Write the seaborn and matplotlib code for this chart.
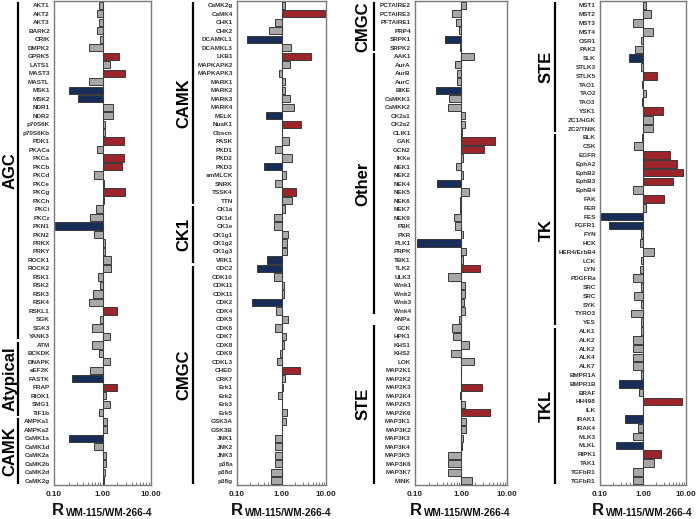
import numpy as np
import pandas as pd
import matplotlib
matplotlib.use("Agg")
import matplotlib.pyplot as plt
import seaborn as sns
from matplotlib.transforms import offset_copy, blended_transform_factory

sns.set_theme(style="white")
plt.rcParams["font.family"] = ["Liberation Sans", "DejaVu Sans"]

# ---------------- data ----------------
p1_names = ["AKT1", "AKT2", "AKT3", "BARK2", "CRIK", "DMPK2", "GPRK5", "LATS1", "MAST3", "MASTL",
            "MSK1", "MSK2", "NDR1", "NDR2", "p70S6K", "p70S6Kb", "PDK1", "PKACa", "PKCa", "PKCb",
            "PKCd", "PKCe", "PKCg", "PKCh", "PKCi", "PKCz", "PKN1", "PKN2", "PRKX", "PRKY",
            "ROCK1", "ROCK2", "RSK1", "RSK2", "RSK3", "RSK4", "RSKL1", "SGK", "SGK3", "YANK3",
            "ATM", "BCKDK", "DNAPK", "eEF2K", "FASTK", "FRAP", "RIOK1", "SMG1", "TIF1b",
            "AMPKa1", "AMPKa2", "CaMK1a", "CaMK1d", "CaMK2a", "CaMK2b", "CaMK2d", "CaMK2g"]
p1_vals = [0.83, 0.76, 0.85, 0.78, 0.90, 0.53, 2.14, 1.46, 2.85, 0.52,
           0.20, 0.31, 1.61, 1.66, 1.14, 1.14, 2.81, 0.76, 2.72, 2.51,
           0.67, 1.07, 2.90, 1.05, 0.74, 0.56, 0.105, 0.67, 1.15, 1.13,
           1.48, 1.48, 0.80, 0.88, 0.65, 0.52, 2.00, 0.89, 0.62, 1.42,
           0.61, 0.84, 1.40, 0.54, 0.24, 2.00, 1.17, 1.44, 0.83,
           1.25, 1.25, 0.20, 0.66, 1.20, 1.20, 1.15, 1.05]
p1_group_names = ["AGC", "Atypical", "CAMK"]
p1_group_sizes = [40, 9, 8]

p2_names = ["CaMK2g", "CaMK4", "CHK1", "CHK2", "DCAMKL1", "DCAMKL3", "LKB1", "MAPKAPK2", "MAPKAPK3",
            "MARK1", "MARK2", "MARK3", "MARK4", "MELK", "NuaK1", "Obscn", "PASK", "PKD1", "PKD2",
            "PKD3", "smMLCK", "SNRK", "TSSK4", "TTN",
            "CK1a", "CK1d", "CK1e", "CK1g1", "CK1g2", "CK1g3", "VRK1",
            "CDC2", "CDK10", "CDK11", "CDK11", "CDK2", "CDK4", "CDK5", "CDK6", "CDK7", "CDK8",
            "CDK9", "CDKL3", "CHED", "CRK7", "Erk1", "Erk2", "Erk3", "Erk5", "GSK3A", "GSK3B",
            "JNK1", "JNK2", "JNK3", "p38a", "p38d", "p38g"]
p2_vals = [1.17, 9.6, 0.72, 0.52, 0.17, 1.66, 4.7, 1.52, 0.87,
           1.21, 1.19, 1.55, 1.90, 0.46, 2.70, 1.03, 1.49, 0.73, 1.72,
           0.40, 1.23, 0.72, 2.08, 1.75,
           1.17, 0.69, 0.69, 1.37, 1.30, 1.30, 0.48,
           0.275, 0.69, 1.11, 1.11, 0.215, 0.77, 1.42, 0.72, 1.28, 1.11,
           0.93, 0.80, 2.60, 1.21, 1.09, 0.85, 1.02, 1.35, 1.28, 1.01,
           0.73, 0.73, 0.73, 0.73, 0.58, 0.58]
p2_group_names = ["CAMK", "CK1", "CMGC"]
p2_group_sizes = [24, 7, 26]

p3_names = ["PCTAIRE2", "PCTAIRE3", "PFTAIRE1", "PRP4", "SRPK1", "SRPK2",
            "AAK1", "AurA", "AurB", "AurC", "BIKE", "CaMKK1", "CaMKK2", "CK2a1", "CK2a2", "CLIK1",
            "GAK", "GCN2", "IKKe", "NEK1", "NEK2", "NEK4", "NEK5", "NEK6", "NEK7", "NEK9", "PBK",
            "PKR", "PLK1", "PRPK", "TBK1", "TLK2", "ULK3", "Wnk1", "Wnk2", "Wnk3", "Wnk4",
            "ANPa",
            "GCK", "HPK1", "KHS1", "KHS2", "LOK", "MAP2K1", "MAP2K2", "MAP2K3", "MAP2K4", "MAP2K5",
            "MAP2K6", "MAP3K1", "MAP3K2", "MAP3K3", "MAP3K4", "MAP3K5", "MAP3K6", "MAP3K7", "MINK"]
p3_vals = [1.28, 0.65, 0.78, 0.90, 0.44, 0.94,
           1.95, 0.74, 0.82, 0.82, 0.29, 0.55, 0.53, 1.20, 1.22, 1.07,
           5.5, 3.2, 1.10, 0.77, 1.09, 0.30, 1.52, 0.94, 0.94, 0.70, 0.74,
           1.12, 0.11, 1.30, 1.10, 2.60, 0.52, 1.20, 1.20, 1.18, 1.20,
           0.89,
           0.64, 0.66, 1.52, 0.62, 1.90, 0.99, 1.00, 2.80, 0.95, 1.20,
           4.2, 1.30, 1.28, 1.12, 1.03, 0.52, 0.52, 0.52, 1.70]
p3_group_names = ["CMGC", "Other", "", "STE"]
p3_group_sizes = [6, 31, 1, 19]

p4_names = ["MST1", "MST2", "MST3", "MST4", "OSR1", "PAK2", "SLK", "STLK3", "STLK5", "TAO1", "TAO2",
            "TAO3", "YSK1", "ZC1/HGK", "ZC2/TNIK",
            "BLK", "CSK", "EGFR", "EphA2", "EphB2", "EphB3", "EphB4", "FAK", "FER", "FES", "FGFR1",
            "FYN", "HCK", "HER4/ErbB4", "LCK", "LYN", "PDGFRa", "SRC", "SRC", "SYK", "TYRO3", "YES",
            "ALK1", "ALK2", "ALK2", "ALK4", "ALK7", "BMPR1A", "BMPR1B", "BRAF", "HH498", "ILK",
            "IRAK1", "IRAK4", "MLK3", "MLKL", "RIPK1", "TAK1", "TGFbR1", "TGFbR1"]
p4_vals = [1.15, 1.50, 0.57, 1.73, 0.88, 0.66, 0.48, 0.88, 2.07, 0.93, 1.15,
           0.93, 2.85, 1.67, 1.67,
           0.95, 0.62, 4.2, 6.1, 8.5, 5.1, 0.60, 3.0, 1.15, 0.10, 0.16,
           0.88, 0.87, 1.80, 0.89, 0.86, 0.58, 0.88, 0.63, 0.88, 0.52, 0.88,
           0.88, 0.58, 0.58, 0.58, 0.58, 0.88, 0.28, 0.82, 7.9, 1.0,
           0.39, 0.75, 0.60, 0.24, 2.60, 1.76, 0.58, 0.58]
p4_group_names = ["STE", "TK", "TKL"]
p4_group_sizes = [15, 22, 18]

panels = [(p1_names, p1_vals, p1_group_names, p1_group_sizes),
          (p2_names, p2_vals, p2_group_names, p2_group_sizes),
          (p3_names, p3_vals, p3_group_names, p3_group_sizes),
          (p4_names, p4_vals, p4_group_names, p4_group_sizes)]

# ---------------- layout (pixels) ----------------
W, H = 696, 519
ax_left = [54, 237, 415, 600]
ax_right = [151, 326, 507, 686]
ax_top, ax_bottom = 1, 485
line_dx = [-36, -44, -41, -45]
label_dx = [-44, -53, -52, -54]

RED, BLUE, GRAY = "#B0101A", "#0E2A62", "#A8A8A8"
palette = {"up": RED, "down": BLUE, "ns": GRAY}

fig = plt.figure(figsize=(W / 100, H / 100), dpi=100)

minor = [np.log10(k) - 1 for k in range(2, 10)] + [np.log10(k) for k in range(2, 10)]

for i, (names, vals, gnames, gsizes) in enumerate(panels):
    ax = fig.add_axes([ax_left[i] / W, 1 - ax_bottom / H,
                       (ax_right[i] - ax_left[i]) / W, (ax_bottom - ax_top) / H])
    vals = np.asarray(vals, dtype=float)
    cls = np.where(vals >= 2, "up", np.where(vals <= 0.5, "down", "ns"))
    df = pd.DataFrame({"row": np.arange(len(names)), "logv": np.log10(vals), "cls": cls})
    sns.barplot(data=df, x="logv", y="row", hue="cls", palette=palette, orient="y",
                dodge=False, width=0.85, edgecolor="#3a3a3a", linewidth=0.7,
                legend=False, ax=ax)
    ax.axvline(0, color="#505050", lw=0.8, zorder=0)
    n = len(names)
    ax.set_ylim(n - 0.5, -0.5)
    ax.set_xlim(-1, 1)
    ax.set_yticks(range(n))
    ax.set_yticklabels(names, fontsize=4.6, fontweight="bold", color="#333333")
    ax.set_xticks([-1, 0, 1])
    ax.set_xticklabels(["0.10", "1.00", "10.00"], fontsize=5.8, fontweight="bold", color="#222222")
    ax.set_xticks(minor, minor=True)
    ax.tick_params(axis="y", length=0, pad=3)
    ax.tick_params(axis="x", which="major", direction="in", length=3, width=0.7,
                   color="#444444", pad=4, bottom=True)
    ax.tick_params(axis="x", which="minor", direction="in", length=2, width=0.5,
                   color="#444444", bottom=True)
    ax.set_xlabel("")
    ax.set_ylabel("")
    for s in ax.spines.values():
        s.set_color("#7a7a7a")
        s.set_linewidth(1.0)

    # x-axis label: R with subscript
    cx = 0.5
    trR = offset_copy(ax.transAxes, fig=fig, x=-51, y=-30, units="dots")
    ax.text(cx, 0, "R", transform=trR, ha="left", va="baseline",
            fontsize=12, fontweight="bold", color="#111111")
    trS = offset_copy(ax.transAxes, fig=fig, x=-37, y=-31, units="dots")
    ax.text(cx, 0, "WM-115/WM-266-4", transform=trS, ha="left", va="baseline",
            fontsize=7.2, fontweight="bold", color="#111111")

    # group brackets and labels
    blend = blended_transform_factory(ax.transAxes, ax.transData)
    start = 0
    for gname, gsize in zip(gnames, gsizes):
        first, last = start, start + gsize - 1
        start += gsize
        if not gname:
            continue
        trL = offset_copy(blend, fig=fig, x=line_dx[i], y=0, units="dots")
        ax.plot([0, 0], [first - 0.35, last + 0.35], transform=trL, color="black",
                lw=1.6, clip_on=False, solid_capstyle="butt")
        trT = offset_copy(blend, fig=fig, x=label_dx[i], y=0, units="dots")
        ax.text(0, (first + last) / 2, gname, transform=trT, rotation=90,
                ha="center", va="center", fontsize=12, fontweight="bold", color="black")

fig.savefig("out.png", dpi=100)
